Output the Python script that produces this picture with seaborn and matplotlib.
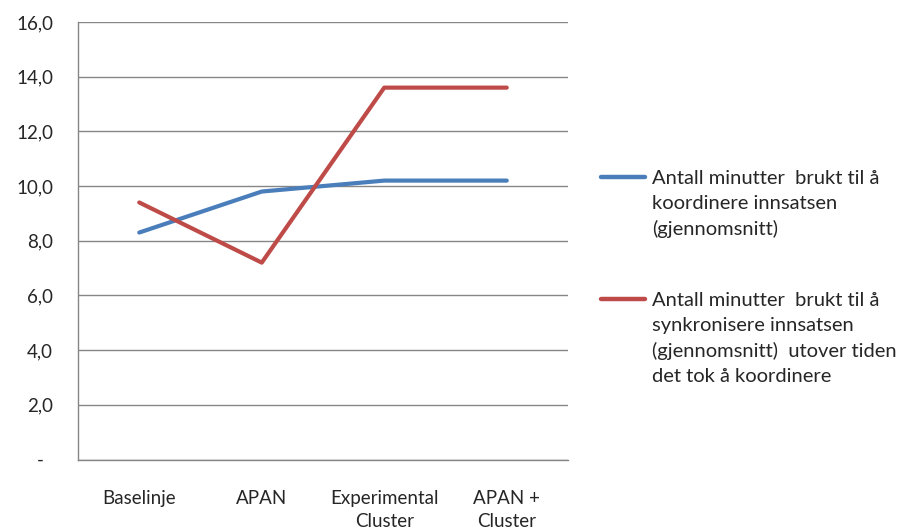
import matplotlib
matplotlib.use("Agg")
import matplotlib.pyplot as plt
import seaborn as sns
import pandas as pd
from matplotlib.ticker import FixedLocator

categories = ["Baselinje", "APAN", "Experimental\nCluster", "APAN +\nCluster"]
series_names = [
    "Antall minutter  brukt til å\nkoordinere innsatsen\n(gjennomsnitt)",
    "Antall minutter  brukt til å\nsynkronisere innsatsen\n(gjennomsnitt)  utover tiden\ndet tok å koordinere",
]
blue_values = [8.3, 9.8, 10.2, 10.2]
red_values = [9.4, 7.2, 13.6, 13.6]
y_ticks = [0, 2, 4, 6, 8, 10, 12, 14, 16]
y_tick_labels = ["-  ", "2,0", "4,0", "6,0", "8,0", "10,0", "12,0", "14,0", "16,0"]
colors = ["#4A7EBB", "#BE4B48"]

df = pd.DataFrame({
    "kategori": categories * 2,
    "verdi": blue_values + red_values,
    "serie": [series_names[0]] * 4 + [series_names[1]] * 4,
})

sns.set_style("white")
plt.rcParams["font.family"] = ["Lato", "DejaVu Sans"]

fig = plt.figure(figsize=(9.01, 5.29), dpi=100)
ax = fig.add_axes([78 / 901, 1 - 459.5 / 529, (568 - 78) / 901, (459.5 - 22) / 529])

sns.lineplot(data=df, x="kategori", y="verdi", hue="serie", palette=colors,
             linewidth=3, sort=False, ax=ax, legend=True)

ax.set_xlim(-0.5, 3.5)
ax.set_ylim(0, 16)
ax.set_yticks(y_ticks)
ax.set_yticklabels(y_tick_labels, fontsize=13.5)
ax.set_xticks(range(len(categories)))
ax.set_xticklabels(categories, fontsize=13.5, linespacing=1.4, va="top")
ax.xaxis.set_minor_locator(FixedLocator([-0.5, 0.5, 1.5, 2.5, 3.5]))
ax.tick_params(axis="x", which="major", length=0, pad=22)
ax.tick_params(axis="x", which="minor", length=6, color="#868686", width=1, direction="out")
ax.tick_params(axis="y", length=6, color="#868686", width=1, direction="out", pad=12)
ax.yaxis.grid(True, color="#868686", linewidth=1)
ax.set_axisbelow(True)
for s in ["top", "right"]:
    ax.spines[s].set_visible(False)
for s in ["left", "bottom"]:
    ax.spines[s].set_color("#868686")
    ax.spines[s].set_linewidth(1)
ax.set_xlabel("")
ax.set_ylabel("")

leg = ax.legend(loc="upper left", bbox_to_anchor=(601 / 901, 1 - 170 / 529),
                bbox_transform=fig.transFigure, frameon=False, fontsize=14.5,
                handlelength=2.2, handletextpad=0.35, labelspacing=2.7,
                borderaxespad=0, borderpad=0)
for t in leg.get_texts():
    t.set_linespacing(1.55)
for l in leg.get_lines():
    l.set_linewidth(3.2)
# align each legend handle with the first line of its label
for col in leg._legend_handle_box.get_children():
    for item in col.get_children():
        item.align = "top"

fig.savefig("out.png", dpi=100)
